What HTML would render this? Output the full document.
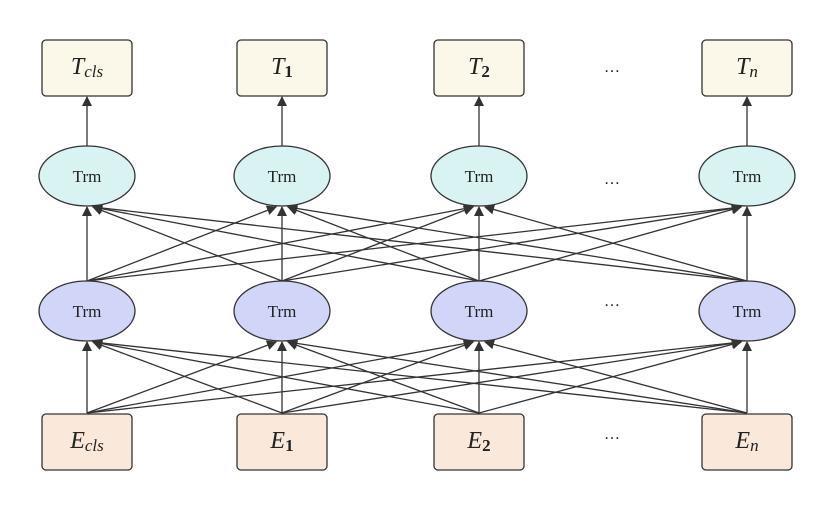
<!DOCTYPE html>
<html><head><meta charset="utf-8"><style>
body{margin:0;background:#fff;width:832px;height:507px;overflow:hidden}
text{font-family:"Liberation Serif",serif;fill:#222}
</style></head><body>
<svg width="832" height="507" viewBox="0 0 832 507" xmlns="http://www.w3.org/2000/svg">
<defs><marker id="a" viewBox="0 0 10 10" refX="9" refY="5" markerWidth="11" markerHeight="10" markerUnits="userSpaceOnUse" orient="auto"><path d="M0,0L10,5L0,10z" fill="#333"/></marker></defs>
<g stroke="#333" stroke-width="1.3" fill="none" marker-end="url(#a)">
<line x1="87" y1="146" x2="87" y2="97"/><line x1="282" y1="146" x2="282" y2="97"/><line x1="479" y1="146" x2="479" y2="97"/><line x1="747" y1="146" x2="747" y2="97"/>
<line x1="87" y1="281" x2="87" y2="207"/><line x1="87" y1="281" x2="276" y2="207"/><line x1="87" y1="281" x2="473" y2="207"/><line x1="87" y1="281" x2="741" y2="207"/>
<line x1="282" y1="281" x2="93" y2="207"/><line x1="282" y1="281" x2="282" y2="207"/><line x1="282" y1="281" x2="473" y2="207"/><line x1="282" y1="281" x2="741" y2="207"/>
<line x1="479" y1="281" x2="93" y2="207"/><line x1="479" y1="281" x2="288" y2="207"/><line x1="479" y1="281" x2="479" y2="207"/><line x1="479" y1="281" x2="741" y2="207"/>
<line x1="747" y1="281" x2="93" y2="207"/><line x1="747" y1="281" x2="288" y2="207"/><line x1="747" y1="281" x2="485" y2="207"/><line x1="747" y1="281" x2="747" y2="207"/>
<line x1="87" y1="413" x2="87" y2="342"/><line x1="87" y1="413" x2="276" y2="342"/><line x1="87" y1="413" x2="473" y2="342"/><line x1="87" y1="413" x2="741" y2="342"/>
<line x1="282" y1="413" x2="93" y2="342"/><line x1="282" y1="413" x2="282" y2="342"/><line x1="282" y1="413" x2="473" y2="342"/><line x1="282" y1="413" x2="741" y2="342"/>
<line x1="479" y1="413" x2="93" y2="342"/><line x1="479" y1="413" x2="288" y2="342"/><line x1="479" y1="413" x2="479" y2="342"/><line x1="479" y1="413" x2="741" y2="342"/>
<line x1="747" y1="413" x2="93" y2="342"/><line x1="747" y1="413" x2="288" y2="342"/><line x1="747" y1="413" x2="485" y2="342"/><line x1="747" y1="413" x2="747" y2="342"/>
</g>
<g stroke="#333" stroke-width="1.3">
<rect x="42" y="40" width="90" height="56" rx="4" fill="#fcf8e9"/>
<rect x="237" y="40" width="90" height="56" rx="4" fill="#fcf8e9"/>
<rect x="434" y="40" width="90" height="56" rx="4" fill="#fcf8e9"/>
<rect x="702" y="40" width="90" height="56" rx="4" fill="#fcf8e9"/>
<ellipse cx="87" cy="176" rx="48" ry="30" fill="#d9f3f3"/>
<ellipse cx="282" cy="176" rx="48" ry="30" fill="#d9f3f3"/>
<ellipse cx="479" cy="176" rx="48" ry="30" fill="#d9f3f3"/>
<ellipse cx="747" cy="176" rx="48" ry="30" fill="#d9f3f3"/>
<ellipse cx="87" cy="311" rx="48" ry="30" fill="#d1d5f7"/>
<ellipse cx="282" cy="311" rx="48" ry="30" fill="#d1d5f7"/>
<ellipse cx="479" cy="311" rx="48" ry="30" fill="#d1d5f7"/>
<ellipse cx="747" cy="311" rx="48" ry="30" fill="#d1d5f7"/>
<rect x="42" y="414" width="90" height="56" rx="4" fill="#fae8da"/>
<rect x="237" y="414" width="90" height="56" rx="4" fill="#fae8da"/>
<rect x="434" y="414" width="90" height="56" rx="4" fill="#fae8da"/>
<rect x="702" y="414" width="90" height="56" rx="4" fill="#fae8da"/>
</g>
<g font-size="17" text-anchor="middle">
<text x="87" y="182">Trm</text><text x="282" y="182">Trm</text><text x="479" y="182">Trm</text><text x="747" y="182">Trm</text>
<text x="87" y="317">Trm</text><text x="282" y="317">Trm</text><text x="479" y="317">Trm</text><text x="747" y="317">Trm</text>
</g>
<g font-size="24" text-anchor="middle">
<text x="87" y="74"><tspan font-style="italic">T</tspan><tspan font-size="17" font-style="italic" dy="3">cls</tspan></text>
<text x="282" y="74"><tspan font-style="italic">T</tspan><tspan font-size="17" font-weight="bold" dy="3">1</tspan></text>
<text x="479" y="74"><tspan font-style="italic">T</tspan><tspan font-size="17" font-weight="bold" dy="3">2</tspan></text>
<text x="747" y="74"><tspan font-style="italic">T</tspan><tspan font-size="17" font-style="italic" dy="3">n</tspan></text>
<text x="87" y="448"><tspan font-style="italic">E</tspan><tspan font-size="17" font-style="italic" dy="3">cls</tspan></text>
<text x="282" y="448"><tspan font-style="italic">E</tspan><tspan font-size="17" font-weight="bold" dy="3">1</tspan></text>
<text x="479" y="448"><tspan font-style="italic">E</tspan><tspan font-size="17" font-weight="bold" dy="3">2</tspan></text>
<text x="747" y="448"><tspan font-style="italic">E</tspan><tspan font-size="17" font-style="italic" dy="3">n</tspan></text>
</g>
<g font-size="16" text-anchor="middle" fill="#444">
<text x="612" y="72">…</text><text x="612" y="184">…</text><text x="612" y="306">…</text><text x="612" y="439">…</text>
</g>
</svg>
</body></html>
